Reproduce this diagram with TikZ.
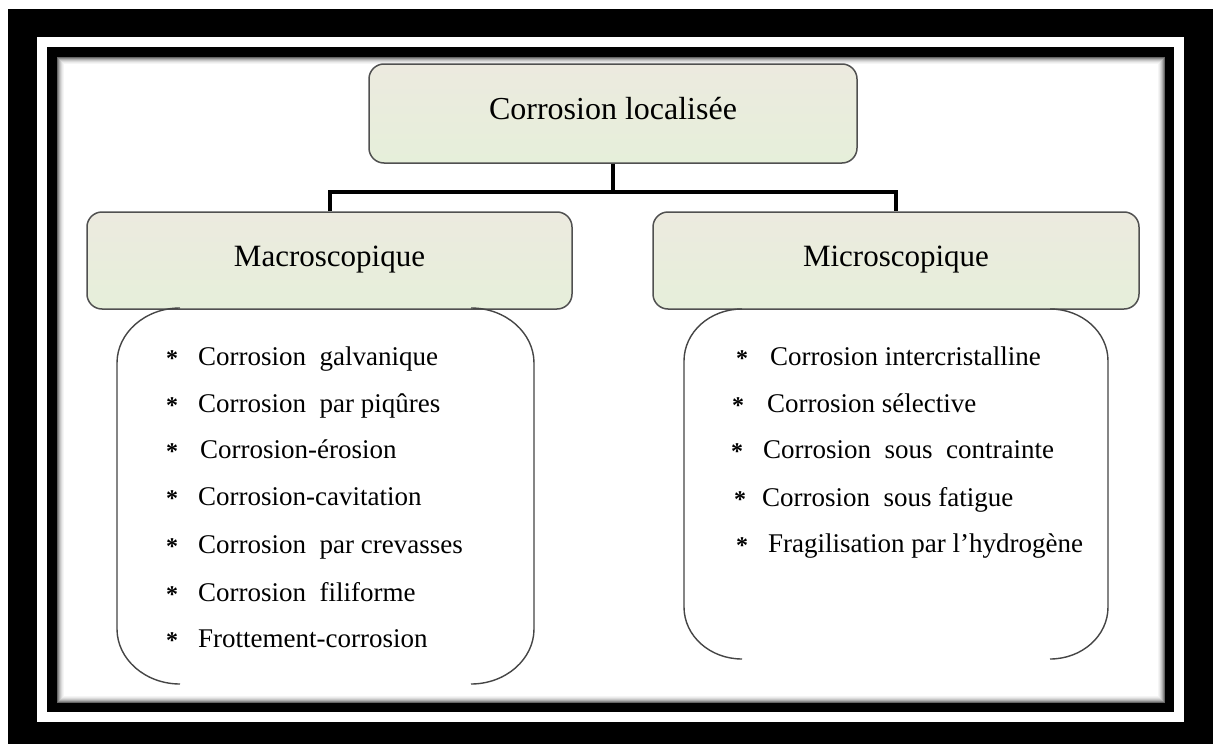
\documentclass[tikz,border=0pt]{standalone}
\usepackage{fontspec}
\setmainfont{Liberation Serif}
\usetikzlibrary{calc,positioning}

\definecolor{boxtop}{HTML}{ECEADF}
\definecolor{boxbot}{HTML}{E6EFDA}
\definecolor{boxline}{HTML}{505050}
\definecolor{braceline}{HTML}{454545}

\tikzset{
  catbox/.style={draw=boxline, line width=1.5pt, rounded corners=15pt,
    top color=boxtop, bottom color=boxbot, minimum width=486pt, minimum height=97pt,
    text height=21pt, text depth=10pt, font=\fontsize{31}{36}\selectfont},
  link/.style={line width=4pt, line join=miter},
  brace/.style={draw=braceline, line width=1.4pt},
  item/.style={anchor=base west, inner sep=0pt, font=\fontsize{27}{30}\selectfont},
  star/.style={anchor=base, inner sep=0pt, yshift=-1pt, font=\fontsize{24}{28}\selectfont\bfseries},
}

\begin{document}
\begin{tikzpicture}[x=1pt,y=-1pt]
\useasboundingbox (0,0) rectangle (1219,744);
% frame
\fill[black] (8,9) rectangle (1213,744);
\fill[white] (37,37) rectangle (1184,722);
\fill[black] (47,47) rectangle (1174,712);
\fill[white] (57,57) rectangle (1165,703);
\foreach \k/\c in {0/60,1/45,2/32,3/22,4/14,5/8,6/4}
  \draw[black!\c, line width=1pt] (57.5+\k,57.5+\k) rectangle (1164.5-\k,702.5-\k);

% boxes
\node[catbox, minimum width=488pt, minimum height=99pt, font=\fontsize{32}{36}\selectfont] (loc) at (613,113.5) {Corrosion localisée};
\node[catbox, minimum width=485pt] (macro) at (329.5,260.5) {Macroscopique};
\node[catbox] (micro) at (896,260.5) {Microscopique};

\coordinate (split) at ($(loc.south)+(0,28)$);
\draw[link] (loc.south) -- (split);
\draw[link] (macro.north) |- (split) -| (micro.north);

% brackets
\draw[brace] (180,308) .. controls (145,308) and (117,333) .. (117,363) -- (117,629) .. controls (117,659) and (145,684) .. (180,684);
\draw[brace] (471,308) .. controls (506,308) and (534,333) .. (534,363) -- (534,629) .. controls (534,659) and (506,684) .. (471,684);
\draw[brace] (742,309) .. controls (710,309) and (684,332) .. (684,361) -- (684,607) .. controls (684,636) and (710,659) .. (742,659);
\draw[brace] (1050,309) .. controls (1082,309) and (1108,332) .. (1108,361) -- (1108,607) .. controls (1108,636) and (1082,659) .. (1050,659);

% lists
\foreach \tx/\yy/\txt [count=\i] in {198/365/Corrosion\ \ galvanique, 198/412/Corrosion\ \ par piqûres,
    200/458/Corrosion-érosion, 198/505/Corrosion-cavitation, 198/553/Corrosion\ \ par crevasses,
    198/601/Corrosion\ \ filiforme, 198/647/Frottement-corrosion}{
  \node[star] (ms\i) at (172,\yy) {*};
  \node[item] (mt\i) at (\tx,\yy) {\txt};
}
\foreach \sx/\tx/\yy/\txt [count=\i] in {742/770/365/Corrosion intercristalline, 738/767/412/Corrosion sélective,
    737/763/458/Corrosion\ \ sous\ \ contrainte, 740/762/506/Corrosion\ \ sous fatigue,
    742/768/552/Fragilisation par l’hydrogène}{
  \node[star] (ns\i) at (\sx,\yy) {*};
  \node[item] (nt\i) at (\tx,\yy) {\txt};
}
\end{tikzpicture}
\end{document}
